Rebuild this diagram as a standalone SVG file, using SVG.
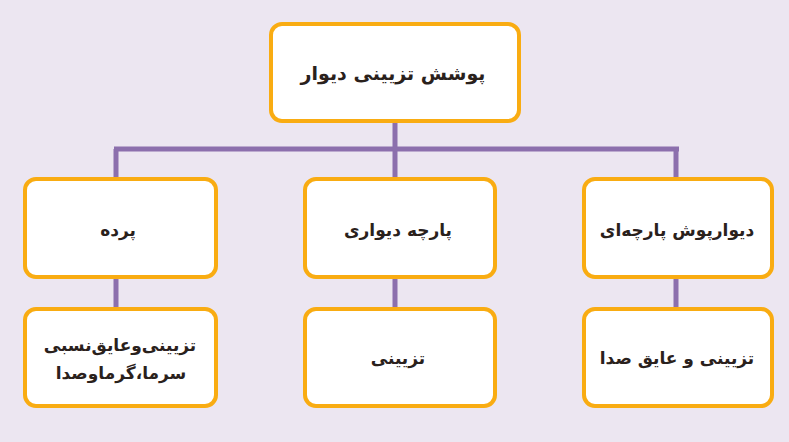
<svg xmlns="http://www.w3.org/2000/svg" width="789" height="442" viewBox="0 0 789 442">
<style>
.box{fill:#ffffff;stroke:#F9AC12;stroke-width:4}
.lbl{font-family:"DejaVu Sans","Noto Sans",sans-serif;font-weight:bold;font-size:17px;fill:#2a211c;text-anchor:middle;direction:rtl;dominant-baseline:central}
.con{stroke:#8C6FAD;stroke-width:5;fill:none}
</style>
<rect width="789" height="442" fill="#ECE6F1"/>
<g id="connectors">
<line class="con" x1="395" y1="122" x2="395" y2="179"/>
<line class="con" x1="114" y1="149" x2="679" y2="149"/>
<line class="con" x1="116" y1="149" x2="116" y2="179"/>
<line class="con" x1="676" y1="149" x2="676" y2="179"/>
<line class="con" x1="116" y1="277" x2="116" y2="309"/>
<line class="con" x1="395" y1="277" x2="395" y2="309"/>
<line class="con" x1="676" y1="277" x2="676" y2="309"/>
</g>
<g id="root">
<rect class="box" x="271" y="24" width="248" height="97" rx="11"/>
<text class="lbl" x="393" y="73" style="font-size:19px">پوشش تزیینی دیوار</text>
</g>
<g id="n-parde">
<rect class="box" x="25" y="179" width="191" height="98" rx="11"/>
<text class="lbl" x="118" y="230">پرده</text>
</g>
<g id="n-parche">
<rect class="box" x="305" y="179" width="190" height="98" rx="11"/>
<text class="lbl" x="398" y="230">پارچه دیواری</text>
</g>
<g id="n-divarpoosh">
<rect class="box" x="584" y="179" width="188" height="98" rx="11"/>
<text class="lbl" x="677" y="230">دیوارپوش پارچه‌ای</text>
</g>
<g id="n-b1">
<rect class="box" x="25" y="309" width="191" height="97" rx="11"/>
<text class="lbl" x="120" y="345">تزیینی‌وعایق‌نسبی</text>
<text class="lbl" x="121" y="373">سرما،گرماوصدا</text>
</g>
<g id="n-b2">
<rect class="box" x="305" y="309" width="190" height="97" rx="11"/>
<text class="lbl" x="398" y="358">تزیینی</text>
</g>
<g id="n-b3">
<rect class="box" x="584" y="309" width="188" height="97" rx="11"/>
<text class="lbl" x="677" y="358">تزیینی و عایق صدا</text>
</g>
</svg>
